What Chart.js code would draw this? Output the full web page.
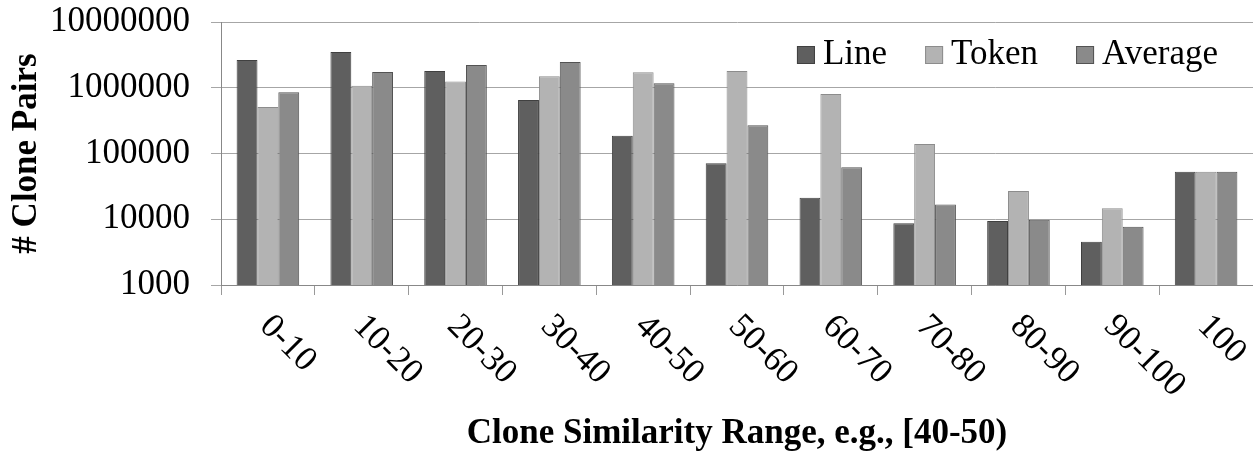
<!DOCTYPE html>
<html>
<head>
<meta charset="utf-8">
<script src="https://cdn.jsdelivr.net/npm/chart.js@4"></script>
<style>
  html, body { margin: 0; padding: 0; background: #fff; }
  #wrap { width: 1253px; height: 451px; }
</style>
</head>
<body>
<div id="wrap"><canvas id="cloneChart" width="1253" height="451"></canvas></div>
<script>
const ranges = ['0-10', '10-20', '20-30', '30-40', '40-50', '50-60', '60-70', '70-80', '80-90', '90-100', '100'];
const lineCounts    = [2650000, 3500000, 1800000, 650000, 186000, 71000, 21300, 8700, 9400, 4560, 53000];
const tokenCounts   = [510000, 1070000, 1250000, 1490000, 1720000, 1800000, 804000, 139000, 26900, 14700, 53000];
const averageCounts = [852000, 1740000, 2220000, 2460000, 1170000, 268000, 61600, 16700, 9840, 7700, 53000];
const yTicks = [1000, 10000, 100000, 1000000, 10000000];

const serif = "'Liberation Serif', 'Times New Roman', serif";

// x labels go down to the right (Excel style), the built-in ones can't do that
const slantedLabels = {
  id: 'slantedLabels',
  afterDraw(chart) {
    const ctx = chart.ctx;
    const x = chart.scales.x;
    ctx.save();
    ctx.font = '35px ' + serif;
    ctx.fillStyle = '#000';
    ctx.textAlign = 'left';
    ctx.textBaseline = 'middle';
    ranges.forEach((lab, i) => {
      ctx.save();
      ctx.translate(x.getPixelForValue(i) - 3, x.top + 36);
      ctx.rotate(Math.PI / 4);
      ctx.fillText(lab, 0, 0);
      ctx.restore();
    });
    ctx.font = 'bold 35px ' + serif;
    ctx.textAlign = 'center';
    ctx.textBaseline = 'alphabetic';
    ctx.fillText('Clone Similarity Range, e.g., [40-50)', (x.left + x.right) / 2, 443);
    ctx.restore();
  }
};

// legend sits inside the plot, top right
const innerLegend = {
  id: 'innerLegend',
  afterDraw(chart) {
    const ctx = chart.ctx;
    const area = chart.chartArea;
    ctx.save();
    ctx.font = '35px ' + serif;
    ctx.textBaseline = 'middle';
    ctx.textAlign = 'left';
    const box = 18, gap = 8, spacing = 38;
    const items = chart.data.datasets;
    let w = 0;
    items.forEach((d, i) => { w += box + gap + ctx.measureText(d.label).width + (i ? spacing : 0); });
    let cx = area.right - 35 - w;
    const cy = area.top + 33;
    items.forEach((d, i) => {
      if (i) cx += spacing;
      ctx.fillStyle = d.backgroundColor;
      ctx.fillRect(cx, cy - box / 2, box, box);
      ctx.strokeStyle = d.borderColor;
      ctx.lineWidth = 1;
      ctx.strokeRect(cx + 0.5, cy - box / 2 + 0.5, box - 1, box - 1);
      cx += box + gap;
      ctx.fillStyle = '#000';
      ctx.fillText(d.label, cx, cy);
      cx += ctx.measureText(d.label).width;
    });
    ctx.restore();
  }
};

new Chart('cloneChart', {
  type: 'bar',
  data: {
    labels: ranges,
    datasets: [
      { label: 'Line', data: lineCounts, backgroundColor: '#5f5f5f', borderColor: '#404040', borderWidth: 1 },
      { label: 'Token', data: tokenCounts, backgroundColor: '#b3b3b3', borderColor: '#8c8c8c', borderWidth: 1 },
      { label: 'Average', data: averageCounts, backgroundColor: '#8a8a8a', borderColor: '#535353', borderWidth: 1 }
    ]
  },
  options: {
    responsive: false,
    animation: false,
    categoryPercentage: 0.667,
    barPercentage: 1.0,
    layout: { padding: { top: 22, right: 0, left: 0, bottom: 0 } },
    plugins: { legend: { display: false }, tooltip: { enabled: false } },
    scales: {
      x: {
        grid: { display: true, drawOnChartArea: false, offset: true, color: '#999', tickLength: 10 },
        border: { color: '#888' },
        ticks: { display: false },
        afterFit: s => { s.height = 166; }
      },
      y: {
        type: 'logarithmic',
        min: 1000,
        max: 10000000,
        afterBuildTicks: s => { s.ticks = yTicks.map(v => ({ value: v })); },
        afterFit: s => { s.width = 221; s.paddingTop = 0; s.paddingBottom = 0; },
        grid: { color: '#a6a6a6', tickLength: 10 },
        border: { color: '#888' },
        ticks: {
          padding: 21,
          color: '#000',
          font: { family: serif, size: 35 },
          callback: v => String(v)
        },
        title: {
          display: true,
          text: '# Clone Pairs',
          color: '#000',
          font: { family: serif, size: 35, weight: 'bold' },
          padding: { top: 6, bottom: 0 }
        }
      }
    }
  },
  plugins: [slantedLabels, innerLegend]
});
</script>
</body>
</html>
